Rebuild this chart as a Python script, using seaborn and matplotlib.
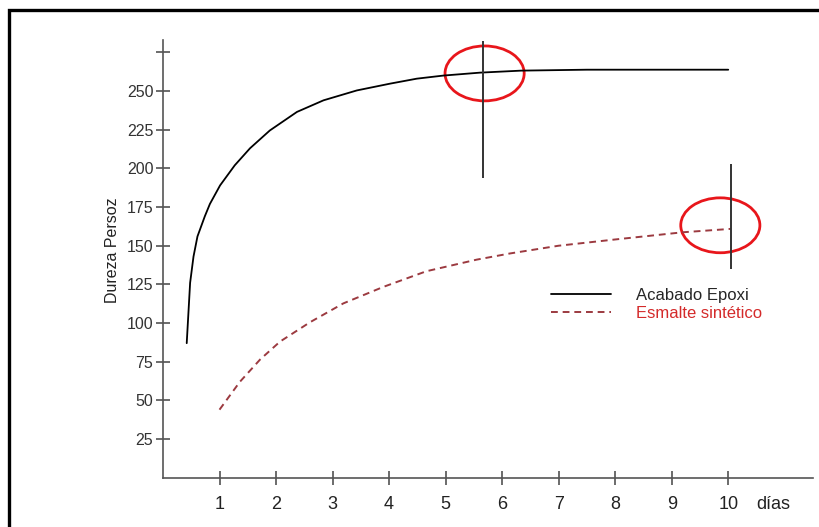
import numpy as np
import pandas as pd
import matplotlib.pyplot as plt
import seaborn as sns
from matplotlib.patches import Ellipse, Rectangle

# Data (days vs. Persoz hardness)
epoxi_dias = [0.42, 0.48, 0.54, 0.61, 0.74, 0.83, 1.01, 1.27, 1.54, 1.89, 2.37, 2.84,
              3.43, 4.02, 4.49, 4.96, 5.61, 6.34, 7.5, 10.0]
epoxi_dureza = [87, 126, 143, 156, 169, 177, 189, 202, 213, 224.5, 236.5, 244,
                250.4, 254.8, 258, 260, 261.9, 263.2, 263.8, 263.8]

esmalte_dias = [1.0, 1.36, 1.72, 2.07, 2.6, 3.19, 3.9, 4.66, 5.55, 6.14, 7.0, 7.99, 9.2, 10.05]
esmalte_dureza = [44, 62, 76.5, 88, 100.5, 112.7, 123.4, 133.5, 141, 145, 150, 154, 158.7, 160.9]

# Marker lines and circled points
marca_x = [5.66, 10.05]
marca_ymin = [193.6, 135]
marca_ymax = [282.5, 203]
circulo_x = [5.69, 9.86]
circulo_y = [261.4, 163.2]

x_ticks = list(range(1, 11))
y_ticks = list(range(25, 276, 25))
y_labels = [str(v) for v in y_ticks[:-1]] + [""]

sns.set_style("white")
plt.rcParams["font.family"] = ["Liberation Sans", "DejaVu Sans"]

df_epoxi = pd.DataFrame({"dias": epoxi_dias, "dureza": epoxi_dureza})
df_esmalte = pd.DataFrame({"dias": esmalte_dias, "dureza": esmalte_dureza})

fig = plt.figure(figsize=(8.19, 5.27), dpi=100)
ax = fig.add_axes([0.199, 0.0935, 0.7937, 0.8306])

sns.lineplot(data=df_epoxi, x="dias", y="dureza", color="black", lw=1.3,
             label="Acabado Epoxi", ax=ax)
sns.lineplot(data=df_esmalte, x="dias", y="dureza", color="#9c3a40", lw=1.4,
             linestyle=(0, (3.5, 2.5)), label="Esmalte sintético", ax=ax)

ax.vlines(marca_x, marca_ymin, marca_ymax, color="#333333", lw=1.4)
for cx, cy in zip(circulo_x, circulo_y):
    ax.add_patch(Ellipse((cx, cy), 1.40, 35.5, fill=False, ec="#e8161b", lw=2.0))

ax.set_xlim(0, 11.5)
ax.set_ylim(0, 283)
ax.set_xticks(x_ticks)
ax.set_xticklabels([str(v) for v in x_ticks], fontsize=13, color="#222222")
ax.set_yticks(y_ticks)
ax.set_yticklabels(y_labels, fontsize=11.5, color="#333333")
ax.tick_params(axis="x", bottom=True, direction="inout", length=10, width=1.1,
               color="#444444", pad=8)
ax.tick_params(axis="y", left=True, direction="inout", length=10, width=1.1,
               color="#444444", pad=2)

for side in ["top", "right"]:
    ax.spines[side].set_visible(False)
for side in ["left", "bottom"]:
    ax.spines[side].set_color("#555555")
    ax.spines[side].set_linewidth(1.2)

ax.set_xlabel("")
ax.set_ylabel("Dureza Persoz", fontsize=11.5, color="#222222")
ax.yaxis.set_label_coords(-0.066, 0.52)
ax.text(10.8, -0.061, "días", transform=ax.get_xaxis_transform(),
        ha="center", va="center", fontsize=13, color="#222222")

leg = ax.legend(frameon=False, fontsize=12, handlelength=3.6, handletextpad=1.5,
                labelspacing=0.15, borderpad=0, borderaxespad=0,
                loc="upper left", bbox_to_anchor=(551 / 819, 1 - 288 / 527),
                bbox_transform=fig.transFigure)
leg.get_texts()[1].set_color("#d42a2a")

# outer frame of the original figure
fig.patches.append(Rectangle((9 / 819, -0.1), 1.2, 1 - 10 / 527 + 0.1, transform=fig.transFigure,
                             fill=False, ec="black", lw=2.4, clip_on=False))

fig.savefig("out.png", dpi=100)
